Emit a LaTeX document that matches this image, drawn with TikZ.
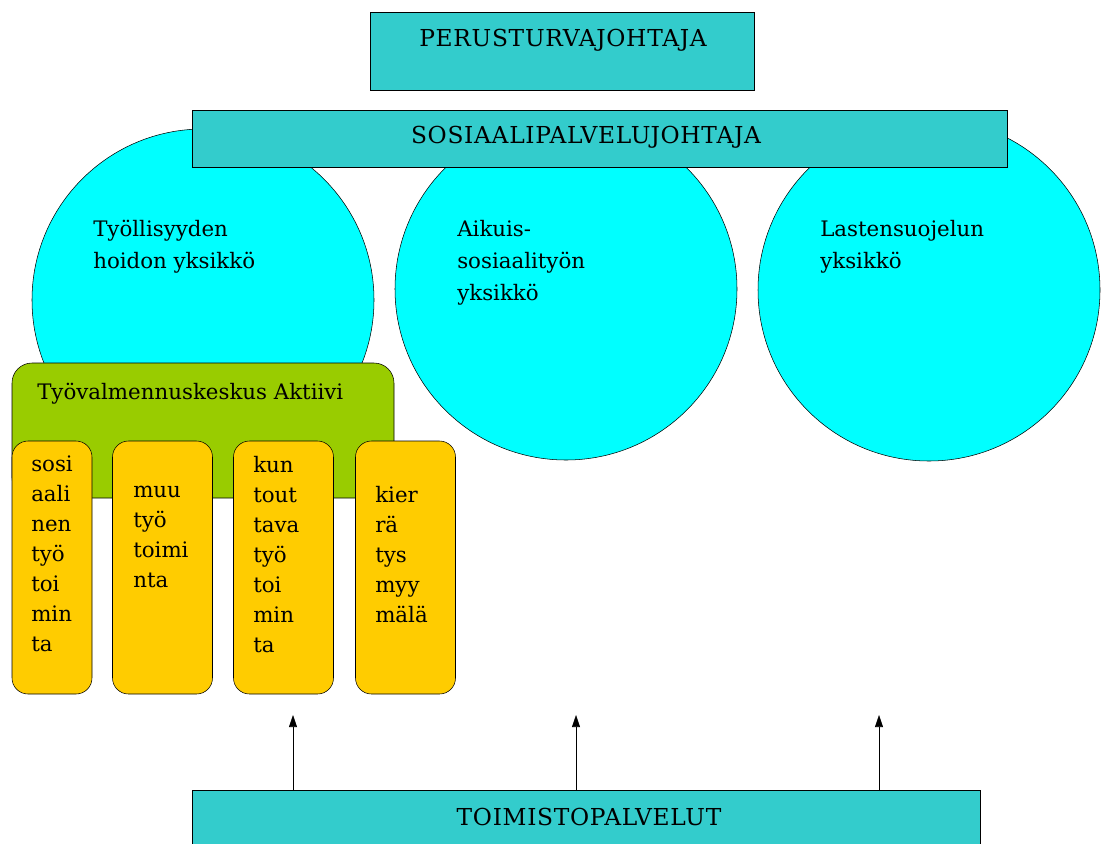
\documentclass[tikz,border=0pt]{standalone}
\usepackage{fontspec}
\setmainfont{DejaVu Serif}
\usetikzlibrary{shapes,positioning,arrows.meta}

\definecolor{tealbox}{HTML}{33CCCC}
\definecolor{aqua}{HTML}{00FFFF}
\definecolor{limegreen}{HTML}{99CC00}
\definecolor{gold}{HTML}{FFCC00}

\begin{document}
\begin{tikzpicture}[x=0.75pt,y=-0.75pt,
    every node/.style={font=\fontsize{16}{22.5}\selectfont},
    caps/.style={inner sep=0pt, font=\fontsize{17.5}{22.5}\selectfont\addfontfeatures{LetterSpace=3}},
    leader/.style={draw, rectangle, fill=tealbox, inner sep=0pt},
    unit/.style={draw, circle, fill=aqua, minimum size=256.5pt, inner sep=0pt},
    unittext/.style={anchor=north west, align=left, inner sep=0pt,
        font=\fontsize{16}{24}\selectfont},
    team/.style={draw, rectangle, rounded corners=12pt, fill=gold, inner sep=0pt,
        minimum width=75pt, minimum height=189.75pt},
    teamtext/.style={anchor=north west, align=left, inner sep=0pt}]

    \useasboundingbox (0,0) rectangle (1102,843);

    % yksikot
    \node[unit] (U1) at (203,300) {};
    \node[unit] (U2) at (566,289) {};
    \node[unit] (U3) at (929,290) {};

    \node[unittext] (T1) at (93,220) {Työllisyyden\\hoidon yksikkö};
    \node[unittext] (T2) at (457,220) {Aikuis-\\sosiaalityön\\yksikkö};
    \node[unittext] (T3) at (820,220) {Lastensuojelun\\yksikkö};

    % johtajat
    \node[leader, minimum width=288pt, minimum height=58.5pt] (P) at (562,51) {};
    \node[caps] (PT) at (563,40) {PERUSTURVAJOHTAJA};
    \node[leader, minimum width=611.25pt, minimum height=42.75pt] (S) at (599.5,138.5) {};
    \node[caps] (ST) at (586,137) {SOSIAALIPALVELUJOHTAJA};

    % Aktiivi
    \node[draw, rectangle, rounded corners=15pt, fill=limegreen, inner sep=0pt,
        minimum width=286.5pt, minimum height=101.25pt] (A) at (203,430.5) {};
    \node[teamtext] (AT) at (37,383) {Työvalmennuskeskus Aktiivi};

    \node[team, minimum width=60pt] (Y1) at (52,567.5) {};
    \node[team] (Y2) at (162.5,567.5) {};
    \node[team] (Y3) at (283.5,567.5) {};
    \node[team] (Y4) at (405.5,567.5) {};

    \node[teamtext] at (31,456) {sosi\\aali\\nen\\työ\\toi\\min\\ta};
    \node[teamtext] at (133,486) {muu\\työ\\toimi\\nta};
    \node[teamtext] at (253,456) {kun\\tout\\tava\\työ\\toi\\min\\ta};
    \node[teamtext] at (375,486) {kier\\rä\\tys\\myy\\mälä};

    % toimistopalvelut
    \node[leader, minimum width=591pt, minimum height=60pt, anchor=north west] (O) at (192,790) {};
    \node[caps] (OT) at (589,817) {TOIMISTOPALVELUT};

    \coordinate (a1) at (293,715);
    \coordinate (a2) at (576,715);
    \coordinate (a3) at (879,715);
    \foreach \a in {a1,a2,a3}
        \draw[-{Triangle[width=6pt,length=9pt]}] (O.north -| \a) -- (\a);

\end{tikzpicture}
\end{document}
